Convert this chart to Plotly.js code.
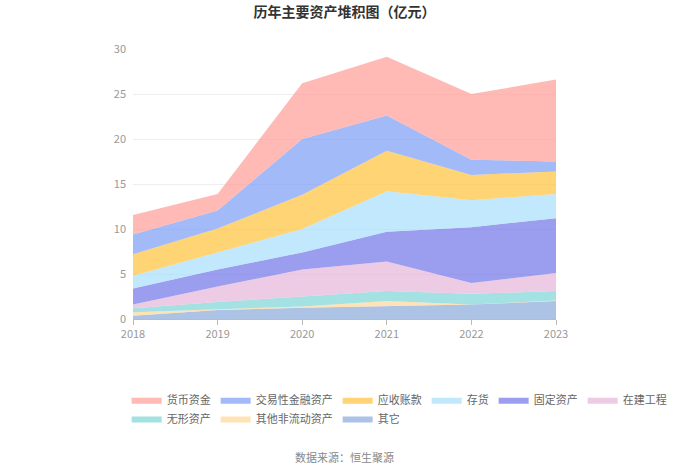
<!DOCTYPE html>
<html>
<head>
<meta charset="utf-8">
<script src="https://cdn.plot.ly/plotly-3.0.1.min.js"></script>
<style>
html,body{margin:0;padding:0;background:#fff;}
#chart{width:700px;height:473px;}
</style>
</head>
<body>
<div id="chart"></div>
<script>
const years = [2018, 2019, 2020, 2021, 2022, 2023];
// series listed bottom of stack first
const seriesNames = ["其它", "其他非流动资产", "无形资产", "在建工程", "固定资产", "存货", "应收账款", "交易性金融资产", "货币资金"];
const qita      = [0.37, 1.0, 1.26, 1.4, 1.6, 2.0];
const qitaFeiLd = [0.38, 0.05, 0.14, 0.6, 0.02, 0.05];
const wuxing    = [0.45, 0.85, 1.1, 1.1, 1.18, 1.05];
const zaijian   = [0.4, 1.7, 3.0, 3.3, 1.2, 2.0];
const guding    = [1.8, 1.9, 1.9, 3.3, 6.2, 6.1];
const cunhuo    = [1.4, 1.9, 2.6, 4.5, 3.0, 2.7];
const yingshou  = [2.4, 2.65, 3.8, 4.5, 2.8, 2.5];
const jiaoyi    = [2.2, 2.0, 6.2, 3.9, 1.7, 1.1];
const huobi     = [2.15, 1.85, 6.2, 6.55, 7.3, 9.1];
const seriesValues = [qita, qitaFeiLd, wuxing, zaijian, guding, cunhuo, yingshou, jiaoyi, huobi];
const seriesColors = ["138,169,220", "255,214,150", "125,212,214", "229,181,218", "112,116,232", "166,222,251", "255,194,58", "124,156,247", "255,157,150"];
// which legend row each series goes into
const legendRow = ["legend2", "legend2", "legend2", "legend", "legend", "legend", "legend", "legend", "legend"];
const yTicks = [0, 5, 10, 15, 20, 25, 30];

const font = '"Noto Sans CJK SC", "Noto Sans", sans-serif';

const traces = seriesNames.map((name, i) => ({
  type: 'scatter',
  mode: 'lines',
  name: name,
  x: years,
  y: seriesValues[i],
  stackgroup: 'one',
  legend: legendRow[i],
  line: {width: 0, color: 'rgb(' + seriesColors[i] + ')'},
  fillcolor: 'rgba(' + seriesColors[i] + ',0.7)',
  hoverinfo: 'x+y+name'
}));

const legendBase = {
  orientation: 'h',
  traceorder: 'reversed',
  x: -0.015, xanchor: 'left',
  yanchor: 'top',
  font: {size: 11, color: '#666', family: font},
  itemwidth: 30,
  tracegroupgap: 0,
  bgcolor: 'rgba(0,0,0,0)'
};

const layout = {
  width: 700,
  height: 473,
  margin: {l: 133, r: 144, t: 49, b: 154},
  paper_bgcolor: '#fff',
  plot_bgcolor: '#fff',
  font: {family: font, color: '#666', size: 11},
  title: {
    text: '<b>历年主要资产堆积图（亿元）</b>',
    x: 0.5, xref: 'paper', xanchor: 'center',
    y: 0.975, yref: 'container', yanchor: 'middle',
    font: {family: font, size: 14, color: '#333'}
  },
  xaxis: {
    type: 'linear',
    range: [2018, 2023],
    tickvals: years,
    ticktext: years.map(String),
    showgrid: false,
    zeroline: false,
    showline: true,
    linecolor: '#bbb',
    linewidth: 1,
    ticks: 'outside',
    ticklen: 5,
    tickcolor: '#bbb',
    tickfont: {size: 11, color: '#999', family: font},
    fixedrange: true
  },
  yaxis: {
    range: [0, 30],
    tickvals: yTicks,
    showgrid: true,
    gridcolor: '#eee',
    zeroline: false,
    showline: false,
    ticks: '',
    ticklabelstandoff: 6,
    tickfont: {size: 11, color: '#999', family: font},
    fixedrange: true
  },
  legend: Object.assign({}, legendBase, {y: -0.245}),
  legend2: Object.assign({}, legendBase, {y: -0.315}),
  showlegend: true,
  annotations: [{
    text: '数据来源：恒生聚源',
    xref: 'paper', yref: 'paper',
    x: 0.5, y: -0.51, xanchor: 'center', yanchor: 'middle',
    showarrow: false,
    font: {size: 11, color: '#888', family: font}
  }]
};

Plotly.newPlot('chart', traces, layout, {displayModeBar: false, staticPlot: true});
</script>
</body>
</html>
